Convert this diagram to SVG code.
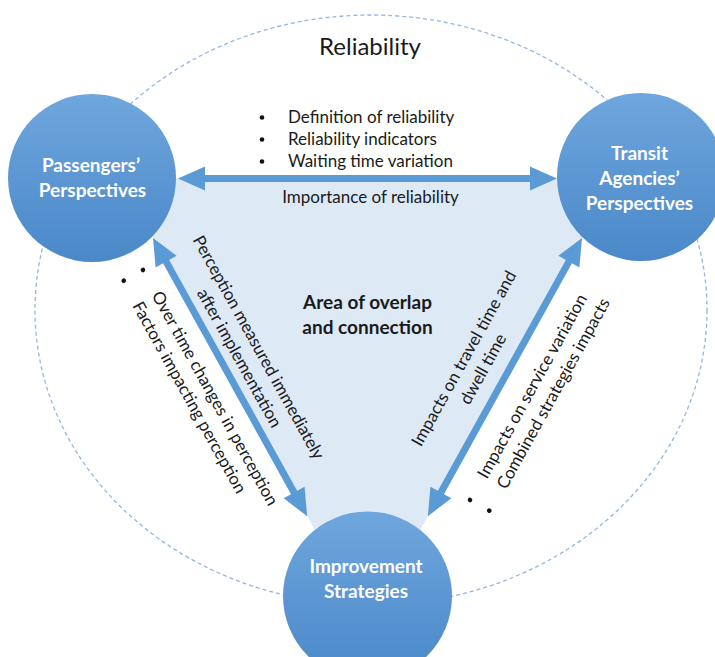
<svg xmlns="http://www.w3.org/2000/svg" width="715" height="657" viewBox="0 0 715 657">
  <defs>
    <linearGradient id="nodeFill" x1="0" y1="0" x2="0" y2="1">
      <stop offset="0" stop-color="#6fa6dd"/>
      <stop offset="1" stop-color="#4a88c9"/>
    </linearGradient>
    <style>
      .txt { font-family: Lato, "Liberation Sans", sans-serif; fill: #1a1a1a; }
      .reg { font-size: 17px; }
      .title { font-size: 24px; }
      .bold { font-weight: bold; font-size: 19px; }
      .node-label { font-family: Lato, "Liberation Sans", sans-serif; font-weight: bold; font-size: 19px; fill: #ffffff; text-anchor: middle; }
      .node { fill: url(#nodeFill); }
      .arrow { fill: #5b9bd5; }
      .dot { fill: #111111; }
    </style>
  </defs>

  <rect width="715" height="657" fill="#ffffff"/>

  <!-- outer dashed boundary -->
  <ellipse cx="371" cy="310" rx="336" ry="295" fill="none" stroke="#93b6e2" stroke-width="1.3" stroke-dasharray="4 3"/>

  <text class="txt title" x="370" y="55" text-anchor="middle">Reliability</text>

  <!-- shared area between the three perspectives -->
  <polygon points="120,178.5 615,178.5 367.5,625" fill="#dee9f6"/>

  <!-- connectors -->
  <g id="connectors">
    <polygon class="arrow" transform="translate(178,178.5)" points="0,0 27,-12 27,-3.5 352,-3.5 352,-12 379,0 352,12 352,3.5 27,3.5 27,12"/>
    <polygon class="arrow" transform="translate(153,238) rotate(61)" points="0,0 27,-12 27,-3.5 291,-3.5 291,-12 318,0 291,12 291,3.5 27,3.5 27,12"/>
    <polygon class="arrow" transform="translate(582,238) rotate(119)" points="0,0 27,-12 27,-3.5 291,-3.5 291,-12 318,0 291,12 291,3.5 27,3.5 27,12"/>
  </g>

  <!-- top connector notes -->
  <g id="notes-top" class="txt reg">
    <circle class="dot" cx="262" cy="117.5" r="2.3"/>
    <circle class="dot" cx="262" cy="139.5" r="2.3"/>
    <circle class="dot" cx="262" cy="161.5" r="2.3"/>
    <text x="288" y="122.5">Definition of reliability</text>
    <text x="288" y="144.5">Reliability indicators</text>
    <text x="288" y="166.5">Waiting time variation</text>
    <text x="370.5" y="203" text-anchor="middle">Importance of reliability</text>
  </g>

  <!-- left connector notes -->
  <g id="notes-left-in" class="txt reg" transform="translate(253.6,350.2) rotate(61)" text-anchor="middle">
    <text x="0" y="0">Perception measured immediately</text>
    <text x="0" y="22">after implementation</text>
  </g>
  <g id="notes-left-out" class="txt reg" transform="translate(138.6,272.4) rotate(61)">
    <circle class="dot" cx="0" cy="-5" r="2.3"/>
    <circle class="dot" cx="0" cy="17" r="2.3"/>
    <text x="26" y="0">Over time changes in perception</text>
    <text x="26" y="22">Factors impacting perception</text>
  </g>

  <!-- right connector notes -->
  <g id="notes-right-in" class="txt reg" transform="translate(468.9,361.2) rotate(-61)" text-anchor="middle">
    <text x="0" y="0">Impacts on travel time and</text>
    <text x="0" y="22">dwell time</text>
  </g>
  <g id="notes-right-out" class="txt reg" transform="translate(474.4,502.4) rotate(-61)">
    <circle class="dot" cx="0" cy="-5" r="2.3"/>
    <circle class="dot" cx="0" cy="17" r="2.3"/>
    <text x="26" y="0">Impacts on service variation</text>
    <text x="26" y="22">Combined strategies impacts</text>
  </g>

  <g id="overlap-label" class="txt bold" text-anchor="middle">
    <text x="367.5" y="309">Area of overlap</text>
    <text x="367.5" y="334">and connection</text>
  </g>

  <!-- nodes -->
  <g id="passengers">
    <circle class="node" cx="92" cy="178" r="84"/>
    <text class="node-label" x="91" y="172">Passengers’</text>
    <text class="node-label" x="92.5" y="197">Perspectives</text>
  </g>
  <g id="agencies">
    <circle class="node" cx="641" cy="177" r="84"/>
    <text class="node-label" x="639.5" y="160">Transit</text>
    <text class="node-label" x="639.5" y="185">Agencies’</text>
    <text class="node-label" x="639.5" y="210">Perspectives</text>
  </g>
  <g id="strategies">
    <circle class="node" cx="367.5" cy="596" r="84.5"/>
    <text class="node-label" x="366" y="573">Improvement</text>
    <text class="node-label" x="366" y="598">Strategies</text>
  </g>
</svg>
